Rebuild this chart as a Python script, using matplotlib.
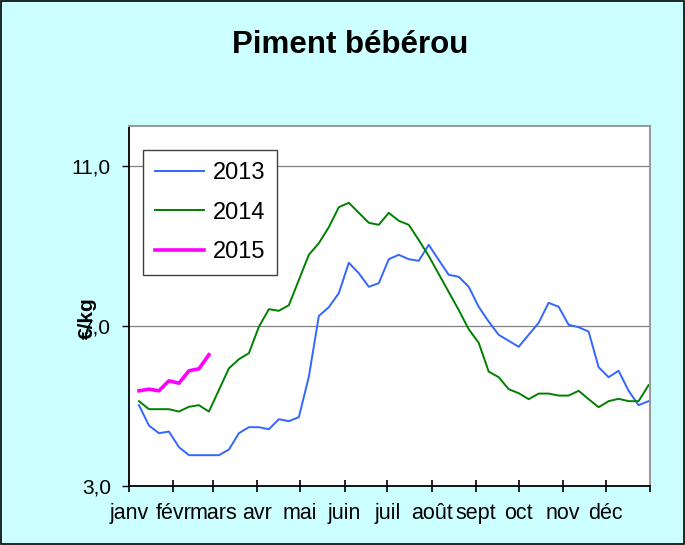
import numpy as np
import matplotlib.pyplot as plt
from matplotlib.patches import Rectangle

plt.rcParams['font.family'] = ['Liberation Sans', 'DejaVu Sans']

# weekly prices (€/kg), week 1..52
prix_2013 = [5.02, 4.51, 4.32, 4.36, 3.97, 3.77, 3.77, 3.77, 3.77, 3.91,
             4.32, 4.47, 4.47, 4.42, 4.67, 4.62, 4.72, 5.73, 7.25, 7.47,
             7.82, 8.58, 8.32, 7.98, 8.07, 8.67, 8.78, 8.67, 8.63, 9.03,
             8.65, 8.28, 8.23, 7.98, 7.48, 7.11, 6.78, 6.63, 6.48, 6.78,
             7.08, 7.58, 7.48, 7.03, 6.97, 6.86, 5.97, 5.72, 5.88, 5.38,
             5.02, 5.12]
prix_2014 = [5.12, 4.92, 4.92, 4.92, 4.86, 4.98, 5.02, 4.86, 5.40, 5.94,
             6.17, 6.32, 6.98, 7.42, 7.38, 7.52, 8.15, 8.78, 9.07, 9.47,
             9.97, 10.08, 9.83, 9.58, 9.53, 9.83, 9.63, 9.53, 9.15, 8.75,
             8.30, 7.85, 7.40, 6.92, 6.58, 5.86, 5.72, 5.42, 5.32, 5.17,
             5.31, 5.31, 5.26, 5.26, 5.38, 5.17, 4.97, 5.12, 5.18, 5.12,
             5.12, 5.52]
prix_2015 = [5.38, 5.42, 5.38, 5.63, 5.57, 5.88, 5.93, 6.28]

mois = ['janv', 'févr', 'mars', 'avr', 'mai', 'juin', 'juil', 'août',
        'sept', 'oct', 'nov', 'déc', '']
debut_mois = [0, 31, 59, 90, 120, 151, 181, 212, 243, 273, 304, 334, 365]

fig = plt.figure(figsize=(6.85, 5.45), dpi=100)
fig.patch.set_facecolor('#CCFFFF')
fig.patches.append(Rectangle((0.002, 0.002), 0.996, 0.996, transform=fig.transFigure,
                             fill=False, edgecolor='black', linewidth=1.2))

ax = fig.add_axes([0.1883, 0.1083, 0.7606, 0.6605])
ax.set_facecolor('white')

jours = np.arange(1, 53) * 7
ax.plot(jours, prix_2013, color='#3366FF', lw=1.4, label='2013')
ax.plot(jours, prix_2014, color='#008000', lw=1.4, label='2014')
ax.plot(jours[:len(prix_2015)], prix_2015, color='#FF00FF', lw=2.6, label='2015')

ax.set_xlim(0, 365)
ax.set_ylim(3, 12)
ax.set_yticks([3, 7, 11])
ax.set_yticklabels(['3,0', '7,0', '11,0'])
ax.set_xticks(debut_mois)
ax.set_xticklabels(mois)

ax.yaxis.grid(True, color='#808080', lw=0.9)
ax.set_axisbelow(True)

for s in ['top', 'right']:
    ax.spines[s].set_color('#999999')
    ax.spines[s].set_linewidth(1.5)
for s in ['left', 'bottom']:
    ax.spines[s].set_color('black')
    ax.spines[s].set_linewidth(1.3)

ax.tick_params(axis='x', direction='inout', length=9, width=1.2, pad=8,
               labelsize=15.5, colors='black')
ax.tick_params(axis='y', direction='out', length=5, width=1.0, pad=8,
               labelsize=15)

ax.set_ylabel('€/kg', fontsize=15, fontweight='bold')
ax.yaxis.set_label_coords(-0.062, 0.467)

fig.text(0.511, 0.917, 'Piment bébérou', ha='center', va='center',
         fontsize=22.5, fontweight='bold')

leg = ax.legend(loc='upper left', bbox_to_anchor=(0.027, 0.933), borderaxespad=0,
                fontsize=17, handlelength=2.1, handletextpad=0.35,
                labelspacing=0.75, borderpad=0.5, fancybox=False, framealpha=1)
leg.get_frame().set_edgecolor('#404040')
leg.get_frame().set_linewidth(1.0)

fig.savefig('out.png', dpi=100, facecolor=fig.get_facecolor())
